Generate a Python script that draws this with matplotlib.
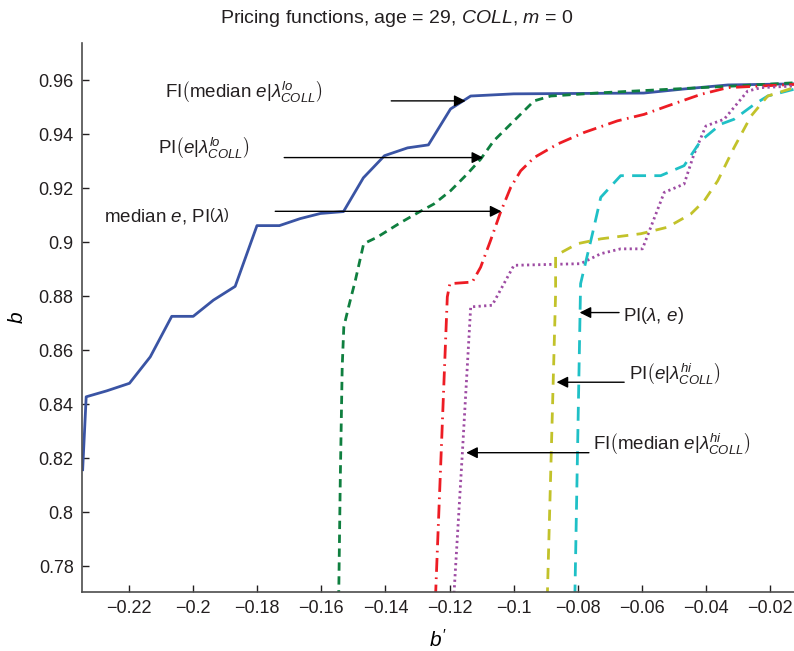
"""
Pricing functions b(b') for age 29, COLL, m = 0.
"""

import matplotlib
matplotlib.use("Agg")
import matplotlib.pyplot as plt

plt.rcParams["font.family"] = ["Liberation Sans", "DejaVu Sans"]
plt.rcParams["mathtext.fontset"] = "custom"
plt.rcParams["mathtext.rm"] = "Liberation Sans"
plt.rcParams["mathtext.it"] = "Liberation Sans:italic"
plt.rcParams["mathtext.bf"] = "Liberation Sans:bold"

# FI(median e | lambda_lo)
fi_lo_x = [-0.2345, -0.2334, -0.2270, -0.2199, -0.2134, -0.2067, -0.2000, -0.1937,
           -0.1869, -0.1801, -0.1731, -0.1666, -0.1603, -0.1531, -0.1469, -0.1403,
           -0.1331, -0.1266, -0.1197, -0.1134, -0.1000, -0.0594, -0.0469, -0.0331, -0.0125]
fi_lo_y = [0.8157, 0.8427, 0.8449, 0.8477, 0.8575, 0.8725, 0.8725, 0.8785,
           0.8836, 0.9061, 0.9061, 0.9087, 0.9106, 0.9113, 0.9238, 0.9320,
           0.9349, 0.9360, 0.9493, 0.9541, 0.9549, 0.9552, 0.9567, 0.9582, 0.9586]

# PI(e | lambda_lo)
pi_lo_x = [-0.1546, -0.1541, -0.1535, -0.1530, -0.1515, -0.1494, -0.1468, -0.1426,
           -0.1353, -0.1297, -0.1249, -0.1197, -0.1145, -0.1103, -0.1062, -0.0999,
           -0.0936, -0.0884, -0.0728, -0.0416, -0.0313, -0.0125]
pi_lo_y = [0.7680, 0.8120, 0.8538, 0.8686, 0.8760, 0.8858, 0.8994, 0.9018,
           0.9072, 0.9110, 0.9141, 0.9190, 0.9252, 0.9307, 0.9375, 0.9449,
           0.9523, 0.9541, 0.9553, 0.9572, 0.9578, 0.9590]

# median e, PI(lambda)
med_x = [-0.1244, -0.1207, -0.1199, -0.1129, -0.1103, -0.1072, -0.1041, -0.1009,
         -0.0978, -0.0936, -0.0863, -0.0780, -0.0676, -0.0593, -0.0520, -0.0416,
         -0.0332, -0.0125]
med_y = [0.7680, 0.8797, 0.8846, 0.8852, 0.8907, 0.9006, 0.9110, 0.9203,
         0.9264, 0.9313, 0.9363, 0.9406, 0.9449, 0.9473, 0.9504, 0.9547,
         0.9572, 0.9584]

# FI(median e | lambda_hi)
fi_hi_x = [-0.1187, -0.1160, -0.1134, -0.1067, -0.0999, -0.0791, -0.0728, -0.0666,
           -0.0598, -0.0572, -0.0530, -0.0468, -0.0437, -0.0400, -0.0343, -0.0270,
           -0.0228, -0.0125]
fi_hi_y = [0.7680, 0.8219, 0.8760, 0.8766, 0.8914, 0.8920, 0.8957, 0.8975,
           0.8975, 0.9055, 0.9184, 0.9215, 0.9326, 0.9430, 0.9455, 0.9559,
           0.9572, 0.9578]

# PI(lambda, e)
pi_le_x = [-0.0809, -0.0791, -0.0754, -0.0728, -0.0666, -0.0541, -0.0468, -0.0416,
           -0.0353, -0.0312, -0.0249, -0.0207, -0.0125]
pi_le_y = [0.7680, 0.8846, 0.9031, 0.9166, 0.9246, 0.9246, 0.9283, 0.9375,
           0.9437, 0.9455, 0.9510, 0.9541, 0.9566]

# PI(e | lambda_hi)
pi_hi_x = [-0.0895, -0.0869, -0.0869, -0.0801, -0.0728, -0.0603, -0.0520, -0.0447,
           -0.0405, -0.0363, -0.0312, -0.0259, -0.0207, -0.0125]
pi_hi_y = [0.7680, 0.8809, 0.8950, 0.8994, 0.9012, 0.9031, 0.9055, 0.9104,
           0.9153, 0.9227, 0.9350, 0.9467, 0.9541, 0.9572]

x_ticks = [-0.22, -0.2, -0.18, -0.16, -0.14, -0.12, -0.1, -0.08, -0.06, -0.04, -0.02]
x_tick_labels = ["\u22120.22", "\u22120.2", "\u22120.18", "\u22120.16", "\u22120.14", "\u22120.12",
                 "\u22120.1", "\u22120.08", "\u22120.06", "\u22120.04", "\u22120.02"]
y_ticks = [0.78, 0.8, 0.82, 0.84, 0.86, 0.88, 0.9, 0.92, 0.94, 0.96]
y_tick_labels = ["0.78", "0.8", "0.82", "0.84", "0.86", "0.88", "0.9", "0.92", "0.94", "0.96"]

# (label, text position, arrow tail, arrow head)
annotations = [
    (r"FI$\left(\mathrm{median}\ e|\lambda^{lo}_{COLL}\right)$", (-0.2087, 0.9556), (-0.1382, 0.9523), (-0.1150, 0.9523)),
    (r"PI$\left(e|\lambda^{lo}_{COLL}\right)$", (-0.2109, 0.9345), (-0.1716, 0.9313), (-0.1095, 0.9313)),
    (r"median $e$, PI$\left(\lambda\right)$", (-0.2278, 0.9098), (-0.1744, 0.9114), (-0.1038, 0.9114)),
    (r"PI$\left(\lambda,\, e\right)$", (-0.0658, 0.8728), (-0.0671, 0.8739), (-0.0794, 0.8739)),
    (r"PI$\left(e|\lambda^{hi}_{COLL}\right)$", (-0.0641, 0.8508), (-0.0655, 0.8481), (-0.0866, 0.8481)),
    (r"FI$\left(\mathrm{median}\ e|\lambda^{hi}_{COLL}\right)$", (-0.0752, 0.8250), (-0.0765, 0.8220), (-0.1148, 0.8220)),
]

fig = plt.figure(figsize=(7.94, 6.51), dpi=100)
ax = fig.add_axes([0.1033, 0.0906, 0.8967, 0.8432])

ax.plot(fi_lo_x, fi_lo_y, color="#3a54a4", linewidth=2.0, linestyle="-")
ax.plot(pi_lo_x, pi_lo_y, color="#0f7f3f", linewidth=2.0, linestyle=(0, (3, 2)))
ax.plot(med_x, med_y, color="#ed1c24", linewidth=2.0, linestyle=(0, (5, 2, 0.6, 2)))
ax.plot(fi_hi_x, fi_hi_y, color="#9e4ca3", linewidth=2.0, linestyle=(0, (0.8, 1.2)))
ax.plot(pi_le_x, pi_le_y, color="#1fc0c6", linewidth=2.0, linestyle=(0, (5, 3)))
ax.plot(pi_hi_x, pi_hi_y, color="#c2c22a", linewidth=2.0, linestyle=(0, (4, 3)))

for label, txt, tail, head in annotations:
    ax.annotate("", xy=head, xytext=tail,
                arrowprops=dict(arrowstyle="-|>", color="black", lw=1.0,
                                mutation_scale=17, shrinkA=0, shrinkB=0))
    ax.text(txt[0], txt[1], label, fontsize=13.5, ha="left", va="center", color="#231f20")

ax.set_xlim(-0.2347, -0.0125)
ax.set_ylim(0.7704, 0.9737)
ax.set_xticks(x_ticks)
ax.set_xticklabels(x_tick_labels)
ax.set_yticks(y_ticks)
ax.set_yticklabels(y_tick_labels)
ax.tick_params(direction="in", length=5, width=1, labelsize=13, colors="#231f20", pad=6)

ax.spines["top"].set_visible(False)
ax.spines["right"].set_visible(False)
for s in ("left", "bottom"):
    ax.spines[s].set_color("#4d4d4d")
    ax.spines[s].set_linewidth(1.2)

ax.set_xlabel(r"$b'$", fontsize=15, labelpad=8)
ax.set_ylabel(r"$b$", fontsize=15, labelpad=8)
fig.text(0.5, 0.972, r"Pricing functions, age = 29, $COLL$, $m$ = 0",
         fontsize=14, ha="center", va="center", color="#231f20")

fig.savefig("out.png", dpi=100)
plt.close(fig)
